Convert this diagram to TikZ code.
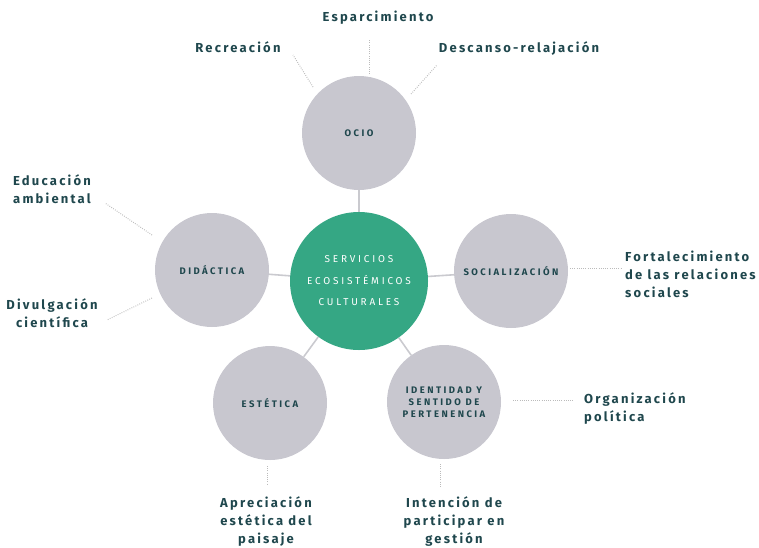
\documentclass[tikz,border=0pt]{standalone}
\usepackage{fontspec}
\setmainfont{Fira Sans}
\newfontfamily\lblfam[LetterSpace=17]{Fira Sans}
\newfontfamily\cirfam[LetterSpace=26]{Fira Sans}
\newfontfamily\mainfam[LetterSpace=28]{Fira Sans}
\definecolor{subgray}{HTML}{C8C7CF}
\definecolor{mygreen}{HTML}{35A784}
\definecolor{darkteal}{HTML}{1F474D}
\definecolor{dotgray}{HTML}{BBBBBB}
\definecolor{linegray}{HTML}{CACACF}
\tikzset{
  subc/.style={circle, fill=subgray, minimum size=114pt, inner sep=0pt, text=darkteal, align=center, font=\cirfam\bfseries\fontsize{9.5}{11.8}\selectfont},
  mainc/.style={circle, fill=mygreen, minimum size=138pt, inner sep=0pt, text=white, align=center, font=\mainfam\fontsize{10}{21.5}\selectfont},
  lbl/.style={text=darkteal, font=\lblfam\bfseries\fontsize{13}{18}\selectfont, inner sep=0pt},
  conn/.style={draw=linegray, line width=1.6pt},
  dotl/.style={draw=dotgray, line width=1pt, dash pattern=on 0.8pt off 1.4pt}
}
\begin{document}
\begin{tikzpicture}[x=1pt,y=-1pt]
\useasboundingbox (0,0) rectangle (759,547);
\node[mainc] (c) at (359,281) {SERVICIOS\\ECOSISTÉMICOS\\CULTURALES};
\node[subc] (ocio) at (359,133) {OCIO};
\node[subc] (did) at (212,270) {DIDÁCTICA};
\node[subc] (soc) at (511,271) {SOCIALIZACIÓN};
\node[subc] (est) at (270,403) {ESTÉTICA};
\node[subc] (ide) at (444,402) {IDENTIDAD Y\\SENTIDO DE\\PERTENENCIA};
\foreach \n in {ocio,did,soc,est,ide} \draw[conn] (c) -- (\n);
% labels
\node[lbl] (esp) at (378,18) {Esparcimiento};
\node[lbl] (rec) at (238,47) {Recreación};
\node[lbl] (des) at (519,49) {Descanso-relajación};
\node[lbl, align=left, anchor=west] (edu) at (13,189) {Educación\\ambiental};
\node[lbl, align=center] (div) at (52,313) {Divulgación\\científica};
\node[lbl, align=left, anchor=west] (fort) at (625,274) {Fortalecimiento\\de las relaciones\\sociales};
\node[lbl, align=left, anchor=west] (org) at (584,409) {Organización\\política};
\node[lbl, align=center] (apr) at (266,522) {Apreciación\\estética del\\paisaje};
\node[lbl, align=center] (int) at (454,522) {Intención de\\participar en\\gestión};
% dotted leaders
\coordinate (a1) at (313,87); \coordinate (a2) at (293,55);
\coordinate (b1) at (369,74); \coordinate (b2) at (369,40);
\coordinate (d1) at (411,94); \coordinate (d2) at (437,65);
\coordinate (e1) at (152,235); \coordinate (e2) at (105,203);
\coordinate (f1) at (152,298); \coordinate (f2) at (107,320);
\coordinate (g1) at (570,268); \coordinate (g2) at (621,268);
\coordinate (h1) at (513,400); \coordinate (h2) at (574,400);
\coordinate (i1) at (267,466); \coordinate (i2) at (267,484);
\coordinate (j1) at (440,464); \coordinate (j2) at (440,488);
\draw[dotl] (a1) -- (a2);
\draw[dotl] (b1) -- (b2);
\draw[dotl] (d1) -- (d2);
\draw[dotl] (e1) -- (e2);
\draw[dotl] (f1) -- (f2);
\draw[dotl] (g1) -- (g2);
\draw[dotl] (h1) -- (h2);
\draw[dotl] (i1) -- (i2);
\draw[dotl] (j1) -- (j2);
\end{tikzpicture}
\end{document}
